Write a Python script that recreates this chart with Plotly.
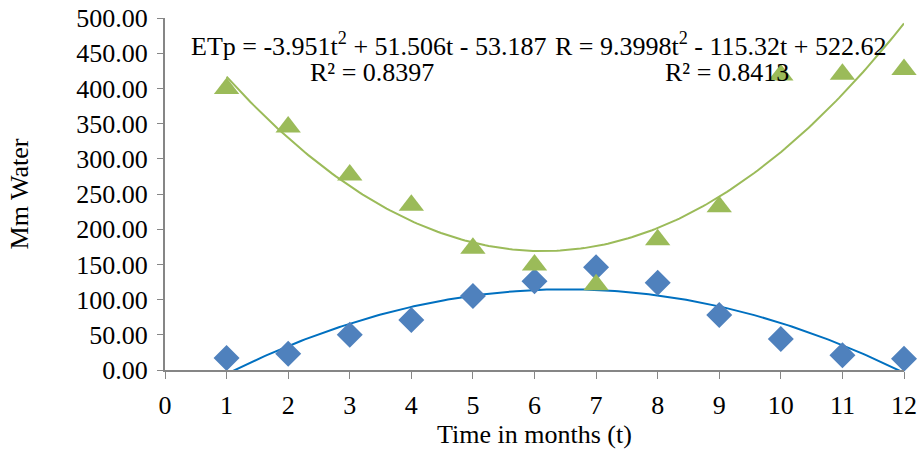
import numpy as np
import plotly.graph_objects as go

months = [1, 2, 3, 4, 5, 6, 7, 8, 9, 10, 11, 12]
etp = [17, 23, 50, 71, 105, 126, 146, 124, 78, 44, 21, 16]
rain = [400, 345, 277, 234, 173, 149, 121, 185, 232, 419, 420, 427]
etp_coef = [-3.951, 51.506, -53.187]
rain_coef = [9.3998, -115.32, 522.62]
x_ticks = list(range(0, 13))
y_ticks = [0, 50, 100, 150, 200, 250, 300, 350, 400, 450, 500]

tt = np.linspace(1, 12, 200)
etp_fit = np.polyval(etp_coef, tt)
rain_fit = np.polyval(rain_coef, tt)

FONT = "Liberation Serif"
FS = 26
fig = go.Figure()
fig.add_trace(go.Scatter(x=tt, y=etp_fit, mode="lines",
                         line=dict(color="#0070C0", width=2), hoverinfo="skip"))
fig.add_trace(go.Scatter(x=tt, y=rain_fit, mode="lines",
                         line=dict(color="#9BBB59", width=2), hoverinfo="skip"))
fig.add_trace(go.Scatter(x=months, y=etp, mode="markers", cliponaxis=False,
                         marker=dict(symbol="diamond", size=20, color="#4F81BD")))
fig.add_trace(go.Scatter(x=months, y=rain, mode="markers", cliponaxis=False,
                         marker=dict(symbol="triangle-up", size=22, color="#9BBB59")))

ann_font = dict(family=FONT, size=FS, color="black")
fig.add_annotation(x=3.30, y=462, xref="x", yref="y", showarrow=False,
                   text="ETp = -3.951t<sup>2</sup> + 51.506t - 53.187", font=ann_font)
fig.add_annotation(x=3.36, y=422, xref="x", yref="y", showarrow=False,
                   text="R² = 0.8397", font=ann_font)
fig.add_annotation(x=9.02, y=462, xref="x", yref="y", showarrow=False,
                   text="R = 9.3998t<sup>2</sup> - 115.32t + 522.62", font=ann_font)
fig.add_annotation(x=9.12, y=422, xref="x", yref="y", showarrow=False,
                   text="R² = 0.8413", font=ann_font)

fig.update_layout(
    width=919, height=455, showlegend=False,
    plot_bgcolor="white", paper_bgcolor="white",
    margin=dict(l=165, r=15, t=18, b=85),
    font=dict(family=FONT, size=FS, color="black"),
    xaxis=dict(range=[0, 12], tickvals=x_ticks, ticks="outside", ticklen=7,
               tickcolor="#868686", showline=True, linecolor="#868686", linewidth=2,
               showgrid=False, zeroline=False, automargin=False, ticklabelstandoff=4,
               ticklabeloverflow="allow",
               title=dict(text="Time in months (t)", standoff=0, font=dict(size=FS)),
               tickfont=dict(size=FS)),
    yaxis=dict(range=[0, 500], tickvals=y_ticks, tickformat=".2f", ticks="outside",
               ticklen=6, tickcolor="#868686", showline=True, linecolor="#868686",
               linewidth=2, showgrid=False, zeroline=False, automargin=False,
               ticklabelstandoff=4, ticklabeloverflow="allow",
               title=dict(text="Mm Water", standoff=40, font=dict(size=FS)),
               tickfont=dict(size=FS)),
)
fig.write_html("out.html", config={"displayModeBar": False},
               post_script="document.body.style.margin='0';document.body.style.overflow='hidden';")
